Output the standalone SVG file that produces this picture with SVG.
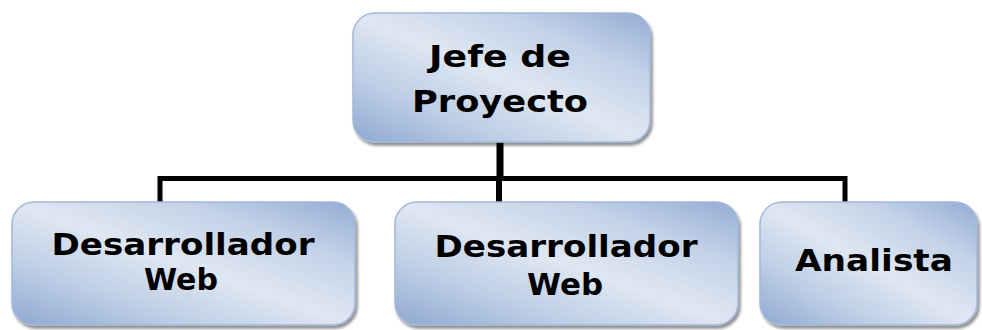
<svg xmlns="http://www.w3.org/2000/svg" width="982" height="330" viewBox="0 0 982 330">
<defs>
<linearGradient id="g" x1="0" y1="1" x2="1" y2="0">
<stop offset="0" stop-color="#8ea8d0"/>
<stop offset="0.25" stop-color="#bccde5"/>
<stop offset="0.5" stop-color="#dfe7f2"/>
<stop offset="0.75" stop-color="#c3d2e8"/>
<stop offset="1" stop-color="#93acd3"/>
</linearGradient>
<filter id="sh" x="-5%" y="-5%" width="112%" height="115%">
<feGaussianBlur in="SourceAlpha" stdDeviation="1.5"/>
<feOffset dx="2" dy="3" result="b"/>
<feComponentTransfer><feFuncA type="linear" slope="0.45"/></feComponentTransfer>
<feMerge><feMergeNode/><feMergeNode in="SourceGraphic"/></feMerge>
</filter>
</defs>
<style>
.box{fill:url(#g);stroke:#a3b8da;stroke-width:1.5;filter:url(#sh)}
.t{font-family:"DejaVu Sans",Verdana,sans-serif;font-weight:bold;font-size:31px;fill:#000;text-anchor:middle}
.c{stroke:#000;fill:none}
</style>
<g id="connectors">
<line class="c" x1="500" y1="138" x2="500" y2="180" stroke-width="7"/>
<polyline class="c" points="160,204 160,178.5 845,178.5 845,204" stroke-width="5"/>
<line class="c" x1="499" y1="178" x2="499" y2="204" stroke-width="6"/>
</g>
<g id="n-jefe">
<rect class="box" x="353" y="13" width="297" height="129" rx="22"/>
<text class="t" x="500" y="67" textLength="142" lengthAdjust="spacingAndGlyphs">Jefe de</text>
<text class="t" x="500" y="112" textLength="176" lengthAdjust="spacingAndGlyphs">Proyecto</text>
</g>
<g id="n-dev1">
<rect class="box" x="12" y="202" width="343" height="123" rx="22"/>
<text class="t" x="183" y="255" textLength="263" lengthAdjust="spacingAndGlyphs">Desarrollador</text>
<text class="t" x="181" y="290" textLength="74" lengthAdjust="spacingAndGlyphs">Web</text>
</g>
<g id="n-dev2">
<rect class="box" x="395" y="202" width="343" height="123" rx="22"/>
<text class="t" x="566" y="257" textLength="263" lengthAdjust="spacingAndGlyphs">Desarrollador</text>
<text class="t" x="565" y="295" textLength="76" lengthAdjust="spacingAndGlyphs">Web</text>
</g>
<g id="n-analista">
<rect class="box" x="760" y="202" width="217" height="123" rx="22"/>
<text class="t" x="874" y="271" textLength="158" lengthAdjust="spacingAndGlyphs">Analista</text>
</g>
</svg>
